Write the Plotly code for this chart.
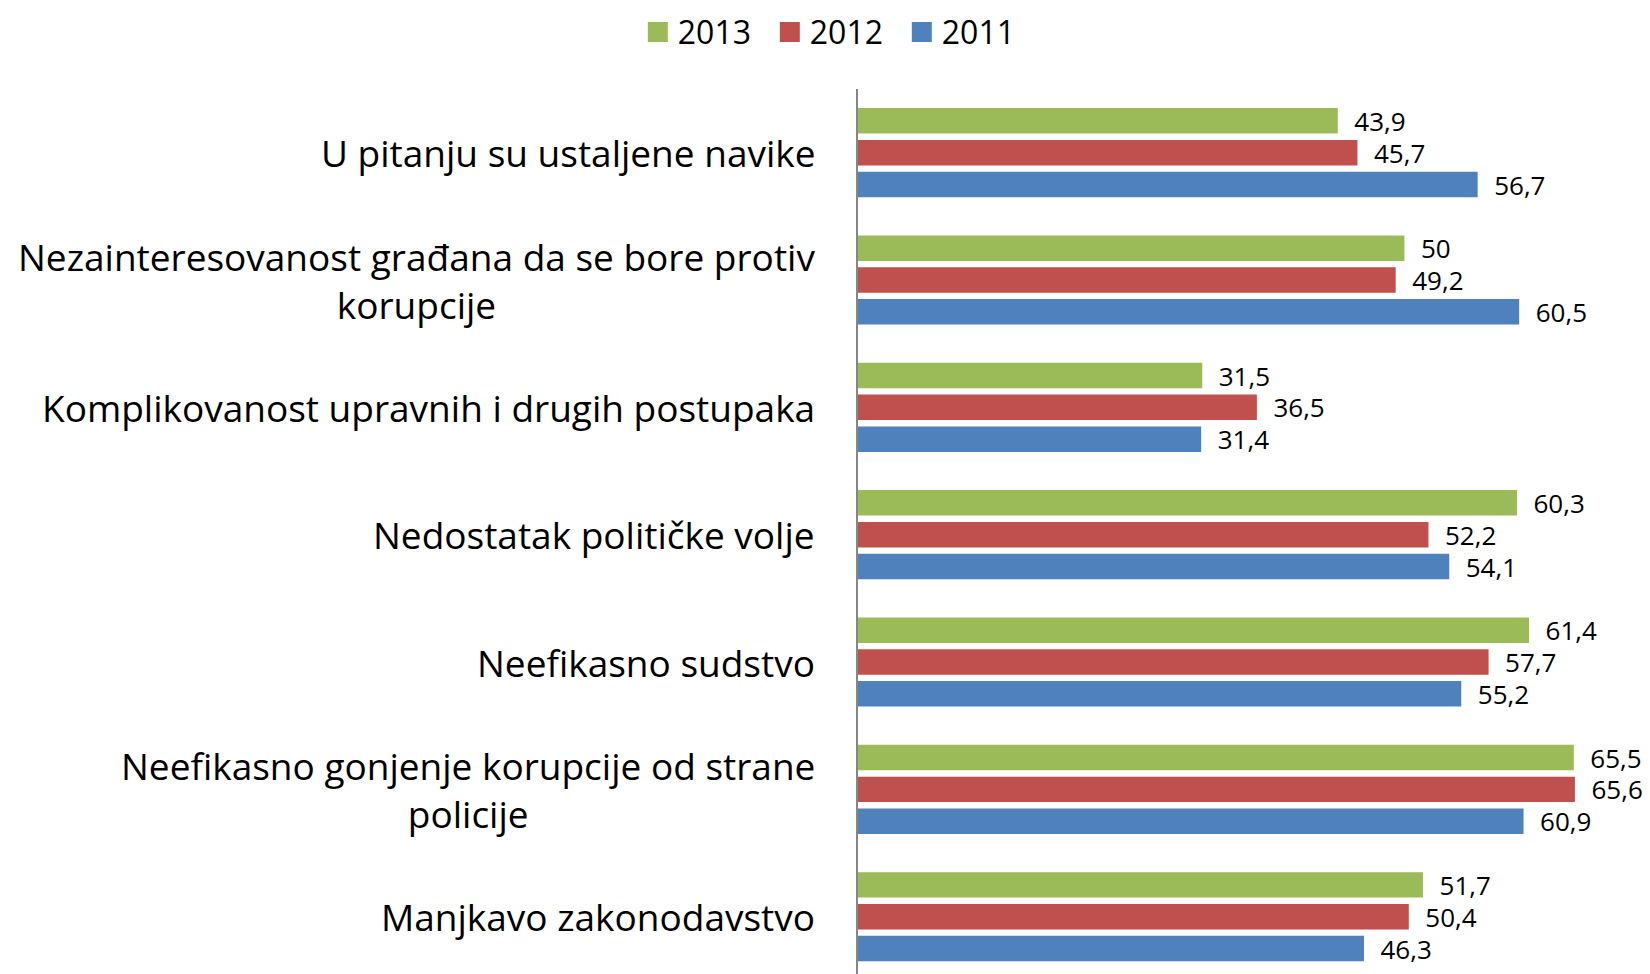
import plotly.graph_objects as go

# categories, top to bottom
categories = [
    "U pitanju su ustaljene navike",
    "Nezainteresovanost građana da se bore protiv<br>korupcije",
    "Komplikovanost upravnih i drugih postupaka",
    "Nedostatak političke volje",
    "Neefikasno sudstvo",
    "Neefikasno gonjenje korupcije od strane<br>policije",
    "Manjkavo zakonodavstvo",
]

values_2013 = [43.9, 50, 31.5, 60.3, 61.4, 65.5, 51.7]
values_2012 = [45.7, 49.2, 36.5, 52.2, 57.7, 65.6, 50.4]
values_2011 = [56.7, 60.5, 31.4, 54.1, 55.2, 60.9, 46.3]

series = [
    ("2013", values_2013, "#9BBB59"),
    ("2012", values_2012, "#C0504D"),
    ("2011", values_2011, "#4F81BD"),
]

FONT = "Open Sans, Arial, sans-serif"


def fmt(v):
    # comma as decimal separator
    return "\u00a0\u00a0" + f"{v:g}".replace(".", ",")


fig = go.Figure()
for name, vals, color in series:
    fig.add_trace(go.Bar(
        name=name,
        y=categories,
        x=vals,
        orientation="h",
        marker=dict(color=color, line=dict(width=0)),
        text=[fmt(v) for v in vals],
        textposition="outside",
        constraintext="none",
        textfont=dict(size=26, color="black", family=FONT),
        cliponaxis=False,
        showlegend=False,
    ))
    # legend-only marker so the swatch is a bigger square
    fig.add_trace(go.Scatter(
        name=name,
        x=[None], y=[None],
        mode="markers",
        marker=dict(symbol="square", size=16, color=color,
                    line=dict(color=color, width=4)),
        showlegend=True,
    ))

# category labels as annotations so wrapped lines stay centred
for cat in categories:
    fig.add_annotation(
        x=0, xref="paper", y=cat, yref="y",
        text=cat, showarrow=False,
        xanchor="right", yanchor="middle", align="center",
        xshift=-41,
        font=dict(size=37, color="black", family=FONT),
    )

fig.update_layout(
    width=1642,
    height=966,
    barmode="group",
    bargap=0.25,
    bargroupgap=0.2,
    margin=dict(l=850, r=27, t=81, b=0),
    paper_bgcolor="white",
    plot_bgcolor="white",
    font=dict(family=FONT, color="black"),
    showlegend=True,
    legend=dict(
        orientation="h",
        x=-0.029, xanchor="center",
        y=0.975, yref="container", yanchor="middle",
        font=dict(size=32, color="black", family=FONT),
        itemwidth=30,
        entrywidth=87,
        traceorder="normal",
    ),
    xaxis=dict(
        range=[0, 70],
        showgrid=False,
        showticklabels=False,
        zeroline=False,
        showline=False,
        ticks="",
    ),
    yaxis=dict(
        range=[6.45, -0.5],
        showticklabels=False,
        showgrid=False,
        showline=True,
        linecolor="#868686",
        linewidth=2,
        ticks="",
    ),
)

fig.write_html("out.html")
